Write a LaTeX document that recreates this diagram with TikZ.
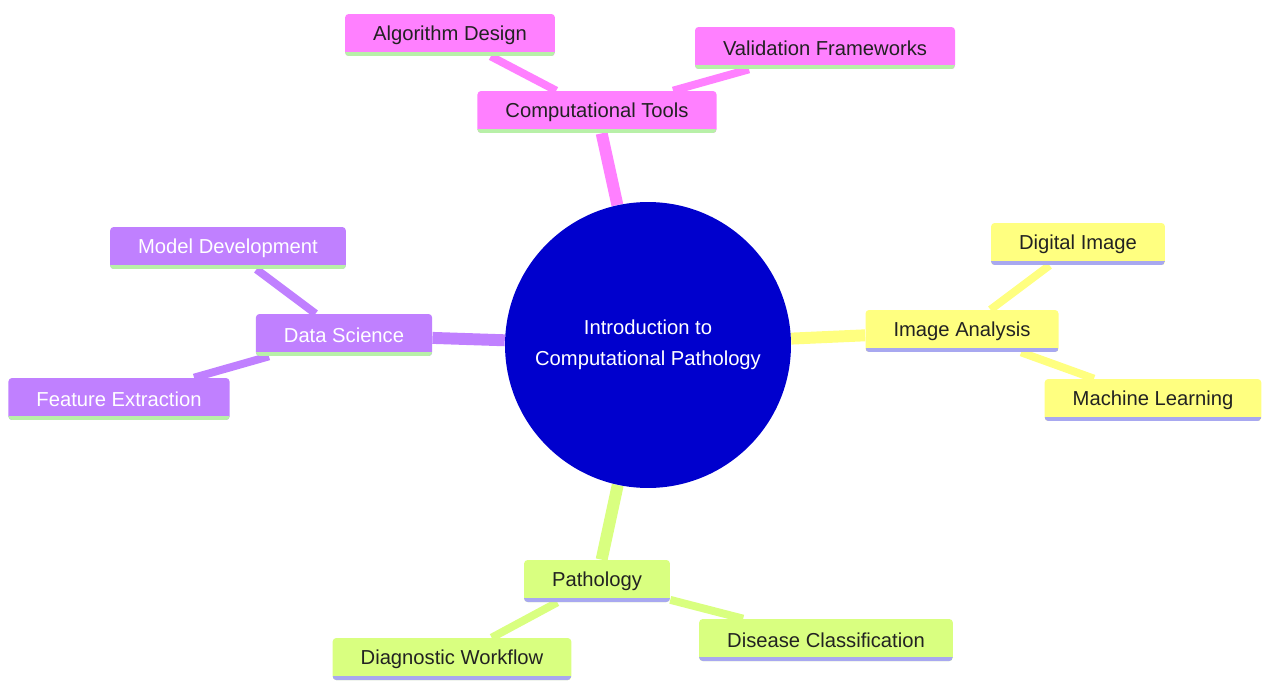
\documentclass[tikz,border=0pt]{standalone}
\usepackage{fontspec}
\setmainfont{Liberation Sans}
\usetikzlibrary{backgrounds}

\definecolor{toolpink}{HTML}{FF80FF}
\definecolor{sciviolet}{HTML}{C080FF}
\definecolor{imgyellow}{HTML}{FFFF80}
\definecolor{pathlime}{HTML}{D9FF80}
\definecolor{rootblue}{HTML}{0000CD}
\definecolor{undergreen}{HTML}{B8F0A8}
\definecolor{underlav}{HTML}{A8A8F0}
\definecolor{darktext}{HTML}{222222}

\begin{document}
\begin{tikzpicture}[x=0.02cm,y=-0.02cm,
  box/.style={rectangle,rounded corners=2pt,inner xsep=0.56cm,minimum height=0.84cm,
    font=\fontsize{11.5}{14}\selectfont},
  under/.style={path picture={\draw[line width=4pt,#1]
    (path picture bounding box.south west) -- (path picture bounding box.south east);}},
  tool/.style={box,fill=toolpink,text=darktext,under=undergreen},
  sci/.style={box,fill=sciviolet,text=white,under=undergreen},
  img/.style={box,fill=imgyellow,text=darktext,under=underlav},
  path/.style={box,fill=pathlime,text=darktext,under=underlav},
  trunk/.style={line width=6.8pt},
  twig/.style={line width=4.5pt}]
\useasboundingbox (0,0) rectangle (1263,682);

\node at (648,345) [circle,fill=rootblue,text=white,minimum size=5.72cm,align=center,
  font=\fontsize{11.5}{17.5}\selectfont] (Root) {Introduction to\\Computational Pathology};

\node at (597,112) [tool] (CompTools) {Computational Tools};
\node at (450,35) [tool] (AlgDesign) {Algorithm Design};
\node at (825,48) [tool] (ValFrame) {Validation Frameworks};

\node at (962,331) [img] (ImgAnalysis) {Image Analysis};
\node at (1078,244) [img] (DigImage) {Digital Image};
\node at (1153,400) [img] (MachLearn) {Machine Learning};

\node at (344,335) [sci] (DataSci) {Data Science};
\node at (228,248) [sci] (ModelDev) {Model Development};
\node at (119,399) [sci] (FeatExtr) {Feature Extraction};

\node at (597,581) [path] (Patho) {Pathology};
\node at (452,659) [path] (DiagFlow) {Diagnostic Workflow};
\node at (826,640) [path] (DisClass) {Disease Classification};

\begin{scope}[on background layer]
\draw [trunk,toolpink] (Root) -- (CompTools);
\draw [twig,toolpink] (CompTools) -- (AlgDesign);
\draw [twig,toolpink] (CompTools) -- (ValFrame);
\draw [trunk,imgyellow] (Root) -- (ImgAnalysis);
\draw [twig,imgyellow] (ImgAnalysis) -- (DigImage);
\draw [twig,imgyellow] (ImgAnalysis) -- (MachLearn);
\draw [trunk,sciviolet] (Root) -- (DataSci);
\draw [twig,sciviolet] (DataSci) -- (ModelDev);
\draw [twig,sciviolet] (DataSci) -- (FeatExtr);
\draw [trunk,pathlime] (Root) -- (Patho);
\draw [twig,pathlime] (Patho) -- (DiagFlow);
\draw [twig,pathlime] (Patho) -- (DisClass);
\end{scope}

\end{tikzpicture}
\end{document}
